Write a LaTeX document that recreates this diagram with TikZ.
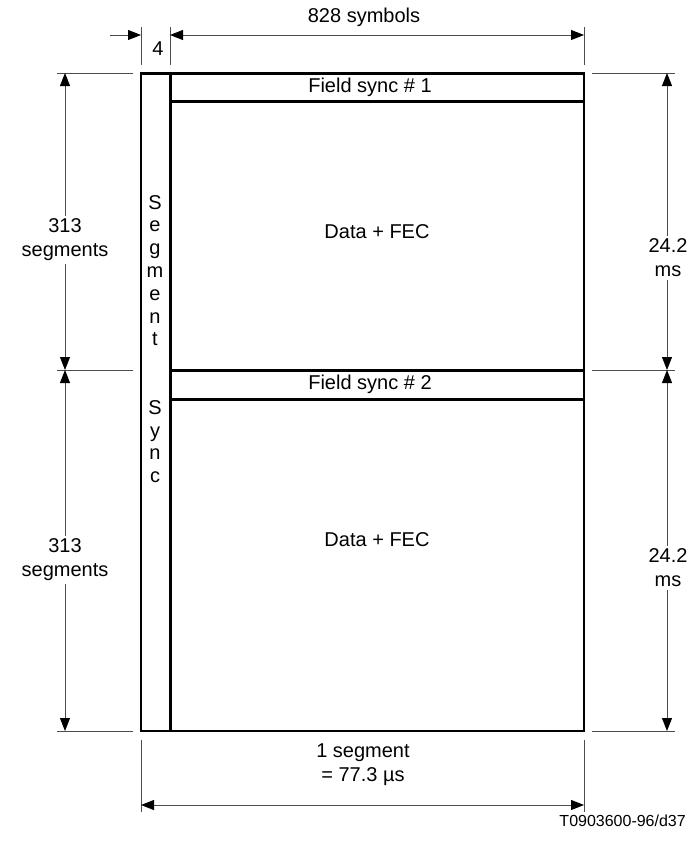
\documentclass[tikz,border=0pt]{standalone}
\usepackage{fontspec}
\setmainfont{Liberation Sans}
\usetikzlibrary{arrows.meta}
\begin{document}
\begin{tikzpicture}[x=1pt,y=-1pt,
  dimline/.style={line width=0.9pt, black!70},
  onetip/.style={dimline, -{Triangle[length=13pt,width=10pt,color=black]}},
  twotip/.style={dimline, {Triangle[length=13pt,width=10pt,color=black]}-{Triangle[length=13pt,width=10pt,color=black]}},
  framestyle/.style={line width=1.6pt},
  heavy/.style={line width=3pt},
  lbl/.style={font=\fontsize{20}{24}\selectfont, align=center, inner sep=2pt},
  coverlbl/.style={lbl, fill=white, inner sep=3pt},
  vtext/.style={font=\fontsize{20}{22.8}\selectfont, align=center, inner sep=0pt, anchor=north},
  footer/.style={font=\fontsize{16}{18}\selectfont, anchor=base east, inner sep=0pt}
]
\useasboundingbox (0,0) rectangle (694,841);

% frame corners
\coordinate (TL) at (141,73);
\coordinate (TR) at (584,73);
\coordinate (BL) at (141,731);
\coordinate (BR) at (584,731);
\coordinate (IT) at (170,73);
\coordinate (IB) at (170,731);
\coordinate (F1L) at (170,101);
\coordinate (F1R) at (584,101);
\coordinate (F2aL) at (170,370);
\coordinate (F2aR) at (584,370);
\coordinate (F2bL) at (170,399);
\coordinate (F2bR) at (584,399);

% frame
\draw[framestyle] (TL) rectangle (BR);
\draw[heavy] (TL) -- (TR);
\draw[heavy] (IT) -- (IB);
\draw[heavy] (F1L) -- (F1R);
\draw[heavy] (F2aL) -- (F2aR);
\draw[heavy] (F2bL) -- (F2bR);

% inner labels
\node[lbl] (fs1) at (370,87) {Field sync \# 1};
\node[lbl] (fs2) at (370,384) {Field sync \# 2};
\node[lbl] (d1) at (377,232) {Data + FEC};
\node[lbl] (d2) at (377,540) {Data + FEC};
\node[vtext] (ss) at (155,195) {S\\e\\g\\m\\e\\n\\t\\[22.8pt] \\S\\y\\n\\c};

% top dimension
\coordinate (e1t) at (141,27); \coordinate (e1b) at (141,65);
\coordinate (e2t) at (170,27); \coordinate (e2b) at (170,65);
\coordinate (e3t) at (584,27); \coordinate (e3b) at (584,65);
\draw[dimline] (e1t) -- (e1b);
\draw[dimline] (e2t) -- (e2b);
\draw[dimline] (e3t) -- (e3b);
\coordinate (a0) at (110,35);
\coordinate (a1) at (141,35);
\coordinate (a2) at (170,35);
\coordinate (a3) at (584,35);
\draw[onetip] (a0) -- (a1);
\draw[twotip] (a2) -- (a3);
\node[lbl] (four) at (158,49) {4};
\node[lbl] (sym) at (364,17) {828 symbols};

% left dimension
\coordinate (l1a) at (57,73);  \coordinate (l1b) at (133,73);
\coordinate (l2a) at (57,370); \coordinate (l2b) at (133,370);
\coordinate (l3a) at (57,731); \coordinate (l3b) at (133,731);
\draw[dimline] (l1a) -- (l1b);
\draw[dimline] (l2a) -- (l2b);
\draw[dimline] (l3a) -- (l3b);
\coordinate (v1) at (65,73);
\coordinate (v2) at (65,370);
\coordinate (v3) at (65,731);
\draw[twotip] (v1) -- (v2);
\draw[twotip] (v2) -- (v3);
\node[coverlbl] (seg1) at (65,240) {313\\segments};
\node[coverlbl] (seg2) at (65,560) {313\\segments};

% right dimension
\coordinate (r1a) at (592,73);  \coordinate (r1b) at (675,73);
\coordinate (r2a) at (592,370); \coordinate (r2b) at (675,370);
\coordinate (r3a) at (592,731); \coordinate (r3b) at (675,731);
\draw[dimline] (r1a) -- (r1b);
\draw[dimline] (r2a) -- (r2b);
\draw[dimline] (r3a) -- (r3b);
\coordinate (w1) at (667,73);
\coordinate (w2) at (667,370);
\coordinate (w3) at (667,731);
\draw[twotip] (w1) -- (w2);
\draw[twotip] (w2) -- (w3);
\node[coverlbl] (ms1) at (668,258) {24.2\\ms};
\node[coverlbl] (ms2) at (668,568) {24.2\\ms};

% bottom dimension
\coordinate (b1t) at (141,740); \coordinate (b1b) at (141,812);
\coordinate (b2t) at (584,740); \coordinate (b2b) at (584,812);
\draw[dimline] (b1t) -- (b1b);
\draw[dimline] (b2t) -- (b2b);
\coordinate (h1) at (141,805);
\coordinate (h2) at (584,805);
\draw[twotip] (h1) -- (h2);
\node[lbl] (oneseg) at (363,765) {1 segment\\= 77.3 µs};

\node[footer] (foot) at (686,826) {T0903600-96/d37};
\end{tikzpicture}
\end{document}
